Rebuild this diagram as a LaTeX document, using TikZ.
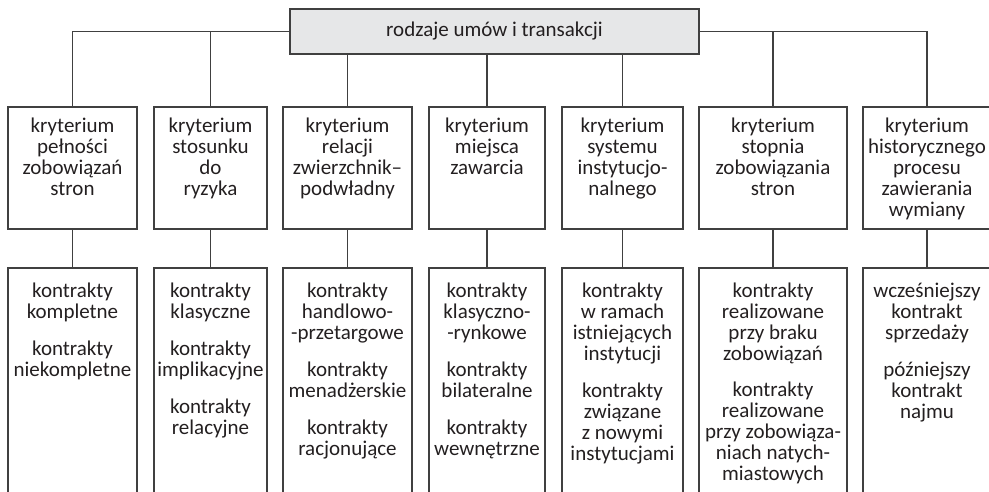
\documentclass[tikz,border=0pt]{standalone}
\usepackage{fontspec}
\setmainfont{Carlito}
\definecolor{rule}{HTML}{404040}
\definecolor{rootfill}{HTML}{E6E7E8}
\definecolor{ink}{HTML}{231F20}
\begin{document}
\begin{tikzpicture}[x=1pt,y=-1pt,
  conn/.style={draw=rule, line width=1.1pt},
  frame/.style={draw=rule, line width=1.1pt, rectangle, inner sep=0pt, outer sep=0pt},
  words/.style={anchor=north, align=center, inner sep=0pt, text=ink,
                font=\fontsize{21}{21}\selectfont},
]
\useasboundingbox (0,0) rectangle (989,492);
\clip (0,0) rectangle (989,492);

% root
\node[frame, fill=rootfill, minimum width=409pt, minimum height=45pt,
      text=ink, font=\fontsize{21}{21}\selectfont] (root) at (494.5,31.5)
      {rodzaje umów i transakcji};

% criterion boxes and the open result boxes below them
\foreach \i/\l/\w in {1/8/129, 2/154/113, 3/283/129, 4/429/116,
                      5/562/121, 6/699/148, 7/863/128} {
  \node[frame, anchor=north west, minimum width=\w pt, minimum height=122pt] (k\i) at (\l,107) {};
  \node[frame, anchor=north west, minimum width=\w pt, minimum height=240pt] (t\i) at (\l,268) {};
  \draw[conn] (k\i.south) -- (t\i.north);
}

% bus from the root
\draw[conn] (k1.north) |- (root.west);
\draw[conn] (k2.north) |- (root.west);
\draw[conn] (k3.north) -- (k3.north |- root.south);
\draw[conn] (k4.north) -- (k4.north |- root.south);
\draw[conn] (k5.north) -- (k5.north |- root.south);
\draw[conn] (k6.north) |- (root.east);
\draw[conn] (k7.north) |- (root.east);

% criterion texts
\node[words] (kt1) at ([yshift=-10.8pt]k1.north) {\strut kryterium\\pełności\\zobowiązań\\stron};
\node[words] (kt2) at ([yshift=-10.8pt]k2.north) {\strut kryterium\\stosunku\\do\\ryzyka};
\node[words] (kt3) at ([yshift=-10.8pt]k3.north) {\strut kryterium\\relacji\\zwierzchnik–\\podwładny};
\node[words] (kt4) at ([yshift=-10.8pt]k4.north) {\strut kryterium\\miejsca\\zawarcia};
\node[words] (kt5) at ([yshift=-10.8pt]k5.north) {\strut kryterium\\systemu\\instytucjo-\\nalnego};
\node[words] (kt6) at ([yshift=-10.8pt]k6.north) {\strut kryterium\\stopnia\\zobowiązania\\stron};
\node[words] (kt7) at ([yshift=-10.8pt]k7.north) {\strut kryterium\\historycznego\\procesu\\zawierania\\wymiany};

% contract types
\node[words] (tt1) at ([yshift=-14.8pt]t1.north)
  {\strut kontrakty\\kompletne\\[16pt]kontrakty\\niekompletne};
\node[words] (tt2) at ([yshift=-14.8pt]t2.north)
  {\strut kontrakty\\klasyczne\\[16pt]kontrakty\\implikacyjne\\[16pt]kontrakty\\relacyjne};
\node[words] (tt3) at ([yshift=-14.8pt]t3.north)
  {\strut kontrakty\\handlowo-\\{-}przetargowe\\[16pt]kontrakty\\menadżerskie\\[16pt]kontrakty\\racjonujące};
\node[words] (tt4) at ([yshift=-14.8pt]t4.north)
  {\strut kontrakty\\klasyczno-\\{-}rynkowe\\[16pt]kontrakty\\bilateralne\\[16pt]kontrakty\\wewnętrzne};
\node[words] (tt5) at ([yshift=-14.8pt]t5.north)
  {\strut kontrakty\\w ramach\\istniejących\\instytucji\\[16pt]kontrakty\\związane\\z nowymi\\instytucjami};
\node[words] (tt6) at ([yshift=-14.8pt]t6.north)
  {\strut kontrakty\\realizowane\\przy braku\\zobowiązań\\[15pt]kontrakty\\realizowane\\przy zobowiąza-\\niach natych-\\miastowych};
\node[words] (tt7) at ([yshift=-14.8pt]t7.north)
  {\strut wcześniejszy\\kontrakt\\sprzedaży\\[16pt]późniejszy\\kontrakt\\najmu};
\end{tikzpicture}
\end{document}
